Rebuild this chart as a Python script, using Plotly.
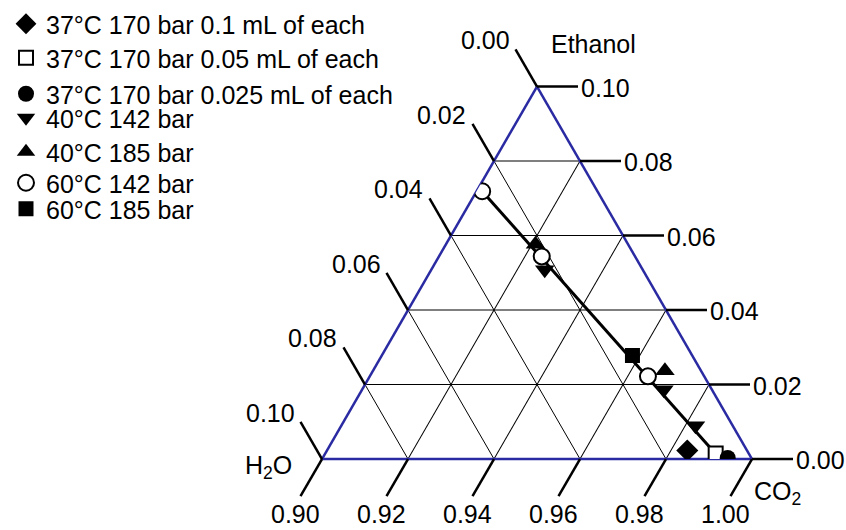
import math
import plotly.graph_objects as go

# ---------------- data (mole fractions: Ethanol, H2O, CO2) ----------------
series_names = [
    "37°C 170 bar 0.1 mL of each",
    "37°C 170 bar 0.05 mL of each",
    "37°C 170 bar 0.025 mL of each",
    "40°C 142 bar",
    "40°C 185 bar",
    "60°C 142 bar",
    "60°C 185 bar",
]

ethanol_37_170_01 = [0.0023]
h2o_37_170_01 = [0.0139]
co2_37_170_01 = [0.9838]

ethanol_37_170_005 = [0.0015]
h2o_37_170_005 = [0.0077]
co2_37_170_005 = [0.9908]

ethanol_37_170_0025 = [0.0003]
h2o_37_170_0025 = [0.0055]
co2_37_170_0025 = [0.9942]

ethanol_40_142 = [0.0508, 0.0186, 0.0089]
h2o_40_142 = [0.0228, 0.0112, 0.0087]
co2_40_142 = [0.9264, 0.9702, 0.9824]

ethanol_40_185 = [0.0577, 0.0237]
h2o_40_185 = [0.0215, 0.0084]
co2_40_185 = [0.9208, 0.9679]

ethanol_60_142 = [0.0719, 0.0544, 0.0222]
h2o_60_142 = [0.0268, 0.0217, 0.0131]
co2_60_142 = [0.9013, 0.9239, 0.9647]

ethanol_60_185 = [0.0278]
h2o_60_185 = [0.0139]
co2_60_185 = [0.9583]

# tie line
ethanol_line = [0.0719, 0.0005]
h2o_line = [0.0268, 0.0075]
co2_line = [0.9013, 0.9920]

ethanol_ticks = [0.00, 0.02, 0.04, 0.06, 0.08, 0.10]
h2o_ticks = [0.00, 0.02, 0.04, 0.06, 0.08, 0.10]
co2_ticks = [0.90, 0.92, 0.94, 0.96, 0.98, 1.00]
ethanol_tick_labels = ["0.00", "0.02", "0.04", "0.06", "0.08", "0.10"]
h2o_tick_labels = ["0.00", "0.02", "0.04", "0.06", "0.08", "0.10"]
co2_tick_labels = ["0.90", "0.92", "0.94", "0.96", "0.98", "1.00"]

A_MIN, B_MIN, C_MIN = 0.0, 0.0, 0.90

# ---------------- layout / style ----------------
W, H = 846, 530
FONT = "Liberation Sans, Arial, sans-serif"
FS = 25
BLUE = "#2a2aa2"
TRI_W = 430.0
HW = math.sqrt(3) / 2
TRI_H = TRI_W * HW
CX = 537.0
BOTTOM = 459.0
TOP = BOTTOM - TRI_H
PAD = 4
domain_x = [(CX - TRI_W / 2) / W, (CX + TRI_W / 2) / W]
domain_y = [1 - (BOTTOM + PAD) / H, 1 - (TOP - PAD) / H]

APEX = (CX, TOP)
BL = (CX - TRI_W / 2, BOTTOM)
BR = (CX + TRI_W / 2, BOTTOM)
SPAN = 1 - A_MIN - B_MIN - C_MIN


def tern_px(a, b, c):
    ap, bp, cp = (a - A_MIN) / SPAN, (b - B_MIN) / SPAN, (c - C_MIN) / SPAN
    s = ap + bp + cp
    ap, bp, cp = ap / s, bp / s, cp / s
    return (ap * APEX[0] + bp * BL[0] + cp * BR[0],
            ap * APEX[1] + bp * BL[1] + cp * BR[1])


def paper(p):
    return p[0] / W, 1 - p[1] / H


styles = [
    dict(symbol="diamond", size=17, color="black", line=dict(color="black", width=0)),
    dict(symbol="square", size=14, color="white", line=dict(color="black", width=2)),
    dict(symbol="circle", size=16, color="black", line=dict(color="black", width=0)),
    dict(symbol="triangle-down", size=17, color="black", line=dict(color="black", width=0)),
    dict(symbol="triangle-up", size=17, color="black", line=dict(color="black", width=0)),
    dict(symbol="circle", size=16, color="white", line=dict(color="black", width=2)),
    dict(symbol="square", size=15, color="black", line=dict(color="black", width=0)),
]
legend_row_y = [24, 58, 94, 118, 152, 183, 209]
LEGEND_X = 6

data_sets = [
    (ethanol_37_170_01, h2o_37_170_01, co2_37_170_01),
    (ethanol_37_170_005, h2o_37_170_005, co2_37_170_005),
    (ethanol_37_170_0025, h2o_37_170_0025, co2_37_170_0025),
    (ethanol_40_142, h2o_40_142, co2_40_142),
    (ethanol_40_185, h2o_40_185, co2_40_185),
    (ethanol_60_142, h2o_60_142, co2_60_142),
    (ethanol_60_185, h2o_60_185, co2_60_185),
]

fig = go.Figure()
fig.add_trace(go.Scatterternary(
    a=ethanol_line, b=h2o_line, c=co2_line, mode="lines",
    line=dict(color="black", width=3), showlegend=False, hoverinfo="skip"))

for i, (name, (ea, wb, cc), st) in enumerate(zip(series_names, data_sets, styles)):
    fig.add_trace(go.Scatterternary(
        a=ea, b=wb, c=cc, mode="markers", name=name,
        legend="legend" if i == 0 else f"legend{i + 1}",
        marker=st,
    ))

axis_common = dict(
    tickmode="array", showticklabels=False, ticks="",
    showline=True, linecolor=BLUE, linewidth=2.5,
    showgrid=True, gridcolor="black", gridwidth=1,
    layer="below traces", title=dict(text=""),
)

shapes = []
annotations = []


def add_tick(p0, d, L, text, xanchor, yanchor, xshift, yshift):
    p1 = (p0[0] + d[0] * L, p0[1] + d[1] * L)
    x0, y0 = paper(p0)
    x1, y1 = paper(p1)
    shapes.append(dict(type="line", xref="paper", yref="paper", x0=x0, y0=y0, x1=x1, y1=y1,
                       line=dict(color="black", width=2.5), layer="above"))
    annotations.append(dict(xref="paper", yref="paper", x=x1, y=y1, text=text, showarrow=False,
                            xanchor=xanchor, yanchor=yanchor, xshift=xshift, yshift=yshift,
                            font=dict(family=FONT, size=FS, color="black")))


# Ethanol ticks on the right edge (horizontal)
for v, t in zip(ethanol_ticks, ethanol_tick_labels):
    p0 = tern_px(v, 0.0, 1 - v)
    add_tick(p0, (1, 0), 41, t, "left", "middle", 1, -1)
# H2O ticks on the left edge (parallel to the right edge)
for v, t in zip(h2o_ticks, h2o_tick_labels):
    p0 = tern_px(1 - C_MIN - v, v, C_MIN)
    add_tick(p0, (-0.5, -HW), 43, t, "right", "middle", -4, 9)
# CO2 ticks on the bottom edge (parallel to the left edge)
for v, t in zip(co2_ticks, co2_tick_labels):
    p0 = tern_px(0.0, 1 - v, v)
    add_tick(p0, (-0.5, HW), 43, t, "center", "middle", -5, -18)

# component titles
for pos, text, xa, xs, ys in [
    (APEX, "Ethanol", "left", 12, 43),
    (BL, "H<sub>2</sub>O", "right", -28, -8),
    (BR, "CO<sub>2</sub>", "left", 0, -34),
]:
    x, y = paper(pos)
    annotations.append(dict(xref="paper", yref="paper", x=x, y=y, text=text, showarrow=False,
                            xanchor=xa, yanchor="middle", xshift=xs, yshift=ys,
                            font=dict(family=FONT, size=FS, color="black")))

layout = dict(
    width=W, height=H,
    margin=dict(l=0, r=0, t=0, b=0),
    paper_bgcolor="white",
    font=dict(family=FONT, size=FS, color="black"),
    ternary=dict(
        sum=1,
        domain=dict(x=domain_x, y=domain_y),
        bgcolor="white",
        aaxis=dict(min=A_MIN, tickvals=ethanol_ticks, **axis_common),
        baxis=dict(min=B_MIN, tickvals=h2o_ticks, **axis_common),
        caxis=dict(min=C_MIN, tickvals=co2_ticks, **axis_common),
    ),
    shapes=shapes,
    annotations=annotations,
)
for i, yc in enumerate(legend_row_y):
    key = "legend" if i == 0 else f"legend{i + 1}"
    layout[key] = dict(x=LEGEND_X / W, xanchor="left",
                       y=1 - yc / H, yanchor="middle",
                       bgcolor="rgba(0,0,0,0)", borderwidth=0,
                       font=dict(family=FONT, size=FS, color="black"))

fig.update_layout(**layout)
fig.write_html("out.html", config={"displayModeBar": False},
               post_script="document.body.style.margin='0px';")
